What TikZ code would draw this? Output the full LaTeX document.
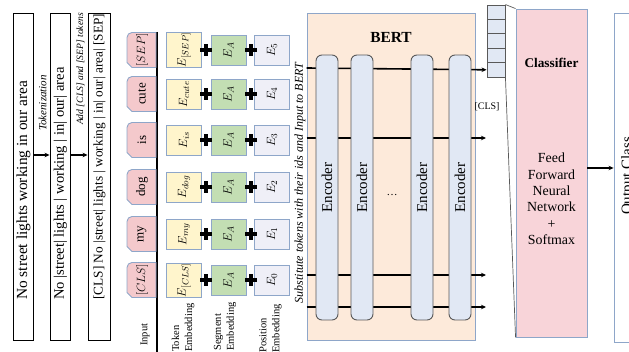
\documentclass[tikz,border=0pt]{standalone}
\usepackage{fontspec}
\setmainfont{Liberation Serif}
\usetikzlibrary{arrows.meta}

\definecolor{tokpink}{HTML}{F4C9CC}
\definecolor{bluegrey}{HTML}{8EA6C9}
\definecolor{tokyellow}{HTML}{FFF5CC}
\definecolor{seggreen}{HTML}{C3DEB3}
\definecolor{poslav}{HTML}{EFEFF7}
\definecolor{bertfill}{HTML}{FDEADA}
\definecolor{encfill}{HTML}{E1E8F4}
\definecolor{encline}{HTML}{595959}
\definecolor{clsfpink}{HTML}{F8D4D9}

\tikzset{
  sentbox/.style={draw=black, line width=0.9pt, fill=white, inner sep=0pt},
  sentxt/.style={rotate=90, anchor=west, inner sep=0pt},
  steplabel/.style={rotate=90, inner sep=0pt, font=\fontsize{9.8}{11}\selectfont\itshape},
  arr/.style={-{Stealth[length=5pt,width=4.5pt]}, line width=1.3pt, black},
  tokshape/.style={draw=bluegrey, line width=0.9pt, fill=tokpink},
  toklabel/.style={rotate=90, inner sep=0pt, font=\fontsize{13}{14}\selectfont},
  embbox/.style={draw=bluegrey, line width=0.9pt, minimum width=30pt, minimum height=35pt,
                 inner sep=0pt, font=\fontsize{13}{14}\selectfont},
  embT/.style={embbox, fill=tokyellow},
  embS/.style={embbox, fill=seggreen},
  embP/.style={embbox, fill=poslav},
  collabel/.style={rotate=90, anchor=west, inner sep=0pt, align=left,
                   font=\fontsize{10.5}{13}\selectfont},
  encoder/.style={draw=encline, line width=0.9pt, fill=encfill, rounded corners=6pt,
                  rotate=90, minimum width=265pt, minimum height=22pt, inner sep=0pt,
                  font=\fontsize{15}{16}\selectfont},
  flow/.style={line width=1.6pt, black},
  flowarr/.style={flow, -{Stealth[length=5pt,width=4.5pt]}},
  cell/.style={draw=encline, line width=0.9pt, fill=encfill, minimum width=18pt,
               minimum height=14.4pt, inner sep=0pt},
  zoomline/.style={draw=encline, line width=0.7pt},
}

\begin{document}
\begin{tikzpicture}[x=1pt,y=-1pt]
\useasboundingbox (0,0) rectangle (629,352);

% --- sentence preparation ---
\node[sentbox, minimum width=20pt, minimum height=327pt] (s1) at (23,176.5) {};
\node[sentbox, minimum width=20pt, minimum height=327pt] (s2) at (60,176.5) {};
\node[sentbox, minimum width=22pt, minimum height=327pt] (s3) at (99,176.5) {};
\node[sentxt, font=\fontsize{15.4}{17}\selectfont] (s1t) at (23.5,300) {No street lights working in our area};
\node[sentxt, font=\fontsize{14.6}{16}\selectfont] (s2t) at (60.5,300) {No |street| lights | working | in| our| area};
\node[sentxt, font=\fontsize{13.3}{15}\selectfont] (s3t) at (99.5,300) {[CLS] No |street| lights | working | in| our| area| [SEP]};
\draw[arr] ([yshift=21.5pt]s1.east) -- ([yshift=21.5pt]s2.west);
\draw[arr] ([yshift=21.5pt]s2.east) -- ([yshift=21.5pt]s3.west);
\node[steplabel, font=\fontsize{11}{12}\selectfont\itshape] (tokz) at (42.5,103) {Tokenization};
\node[steplabel, font=\fontsize{9.6}{11}\selectfont\itshape] (addt) at (80.5,69) {Add [CLS] and [SEP] tokens};

% --- input tokens and their embeddings ---
\coordinate (axtop) at (157,32);
\coordinate (axbot) at (157,352);
\draw[line width=1.3pt] (axtop) -- (axbot);

\foreach \yc/\tok/\et/\ep [count=\i] in
  {50/{$[SEP]$}/{$E_{[SEP]}$}/{$E_5$},
   94/{cute}/{$E_{cute}$}/{$E_4$},
   140/{is}/{$E_{is}$}/{$E_3$},
   187/{dog}/{$E_{dog}$}/{$E_2$},
   234/{my}/{$E_{my}$}/{$E_1$},
   280/{$[CLS]$}/{$E_{[CLS]}$}/{$E_0$}}{
  \draw[tokshape] (156,\yc-17.5) [rounded corners=5pt] -- (127,\yc-17.5) -- (127,\yc)
        [sharp corners] -- (127,\yc+12.5) -- (132,\yc+17.5) -- (156,\yc+17.5) -- cycle;
  \node[toklabel] (tok-\i) at (142,\yc) {\tok};
  \node[embT, rotate=90] (et-\i) at (184,\yc) {\et};
  \node[embS, rotate=90] (es-\i) at (228.5,\yc) {$E_A$};
  \node[embP, rotate=90] (ep-\i) at (272,\yc) {\ep};
  \fill (206-6,\yc-2) rectangle (206+6,\yc+2);
  \fill (206-2,\yc-6) rectangle (206+2,\yc+6);
  \fill (251-6,\yc-2) rectangle (251+6,\yc+2);
  \fill (251-2,\yc-6) rectangle (251+2,\yc+6);
}

\node[collabel] (lbin) at (145,346) {Input};
\node[collabel] (lbtok) at (183,352) {Token\\Embedding};
\node[collabel] (lbseg) at (225,351) {Segment\\Embedding};
\node[collabel] (lbpos) at (270.5,353) {Position\\Embedding};

\node[rotate=90, inner sep=0pt, font=\fontsize{12}{13}\selectfont\itshape] (subst) at (300,183)
  {Substitute tokens with their ids and Input to BERT};

% --- BERT ---
\node[draw=bluegrey, line width=0.9pt, fill=bertfill, minimum width=168pt, minimum height=327pt] (bert) at (391,176.5) {};
\node[font=\fontsize{15.4}{17}\selectfont\bfseries, inner sep=0pt] (berttitle) at (391,37) {BERT};

% output cells of the [CLS] vector
\foreach \i in {1,...,5}{
  \node[cell] (cell-\i) at (496,5+14.4*\i-7.2) {};
}

\coordinate (r1) at (0,68);
\coordinate (r2) at (0,138);
\coordinate (r3) at (0,275);
\coordinate (r4) at (0,307);
\coordinate (o2) at (486,138);
\coordinate (o3) at (486,275);
\coordinate (o4) at (486,307);
\draw[flowarr] (bert.west |- r1) -- (cell-5.west);
\draw[flowarr] (bert.west |- r2) -- (o2);
\draw[flowarr] (bert.west |- r3) -- (o3);
\draw[flowarr] (bert.west |- r4) -- (o4);

\node[encoder] (enc1) at (327,187.5) {Encoder};
\node[encoder] (enc2) at (362,187.5) {Encoder};
\node[encoder] (enc3) at (422,187.5) {Encoder};
\node[encoder] (enc4) at (460,187.5) {Encoder};
\node[font=\fontsize{11}{12}\selectfont] (dots) at (392,195) {\ldots};

\node[font=\fontsize{10}{11}\selectfont, inner sep=0pt] (clslbl) at (487,107) {[CLS]};

% --- classifier ---
\node[draw=bluegrey, line width=0.9pt, fill=clsfpink, minimum width=71pt, minimum height=328pt] (clsf) at (551.5,173) {};
\draw[zoomline] (cell-1.north east) -- (clsf.north west);
\draw[zoomline] (cell-5.south east) -- (clsf.south west);
\node[font=\fontsize{13.3}{15}\selectfont\bfseries, inner sep=0pt] (clsftitle) at (551.5,63) {Classifier};
\node[align=center, inner sep=0pt, font=\fontsize{13.9}{16.4}\selectfont] (ffnn) at (551.5,199)
  {Feed\\Forward\\Neural\\Network\\+\\Softmax};

% --- output ---
\node[draw=bluegrey, line width=0.9pt, fill=white, minimum width=36pt, minimum height=329pt] (out) at (632,177.5) {};
\node[rotate=90, inner sep=0pt, font=\fontsize{15}{16}\selectfont] (outt) at (628,176) {Output Class};
\coordinate (r5) at (0,168);
\draw[arr] (clsf.east |- r5) -- (out.west |- r5);
\end{tikzpicture}
\end{document}
